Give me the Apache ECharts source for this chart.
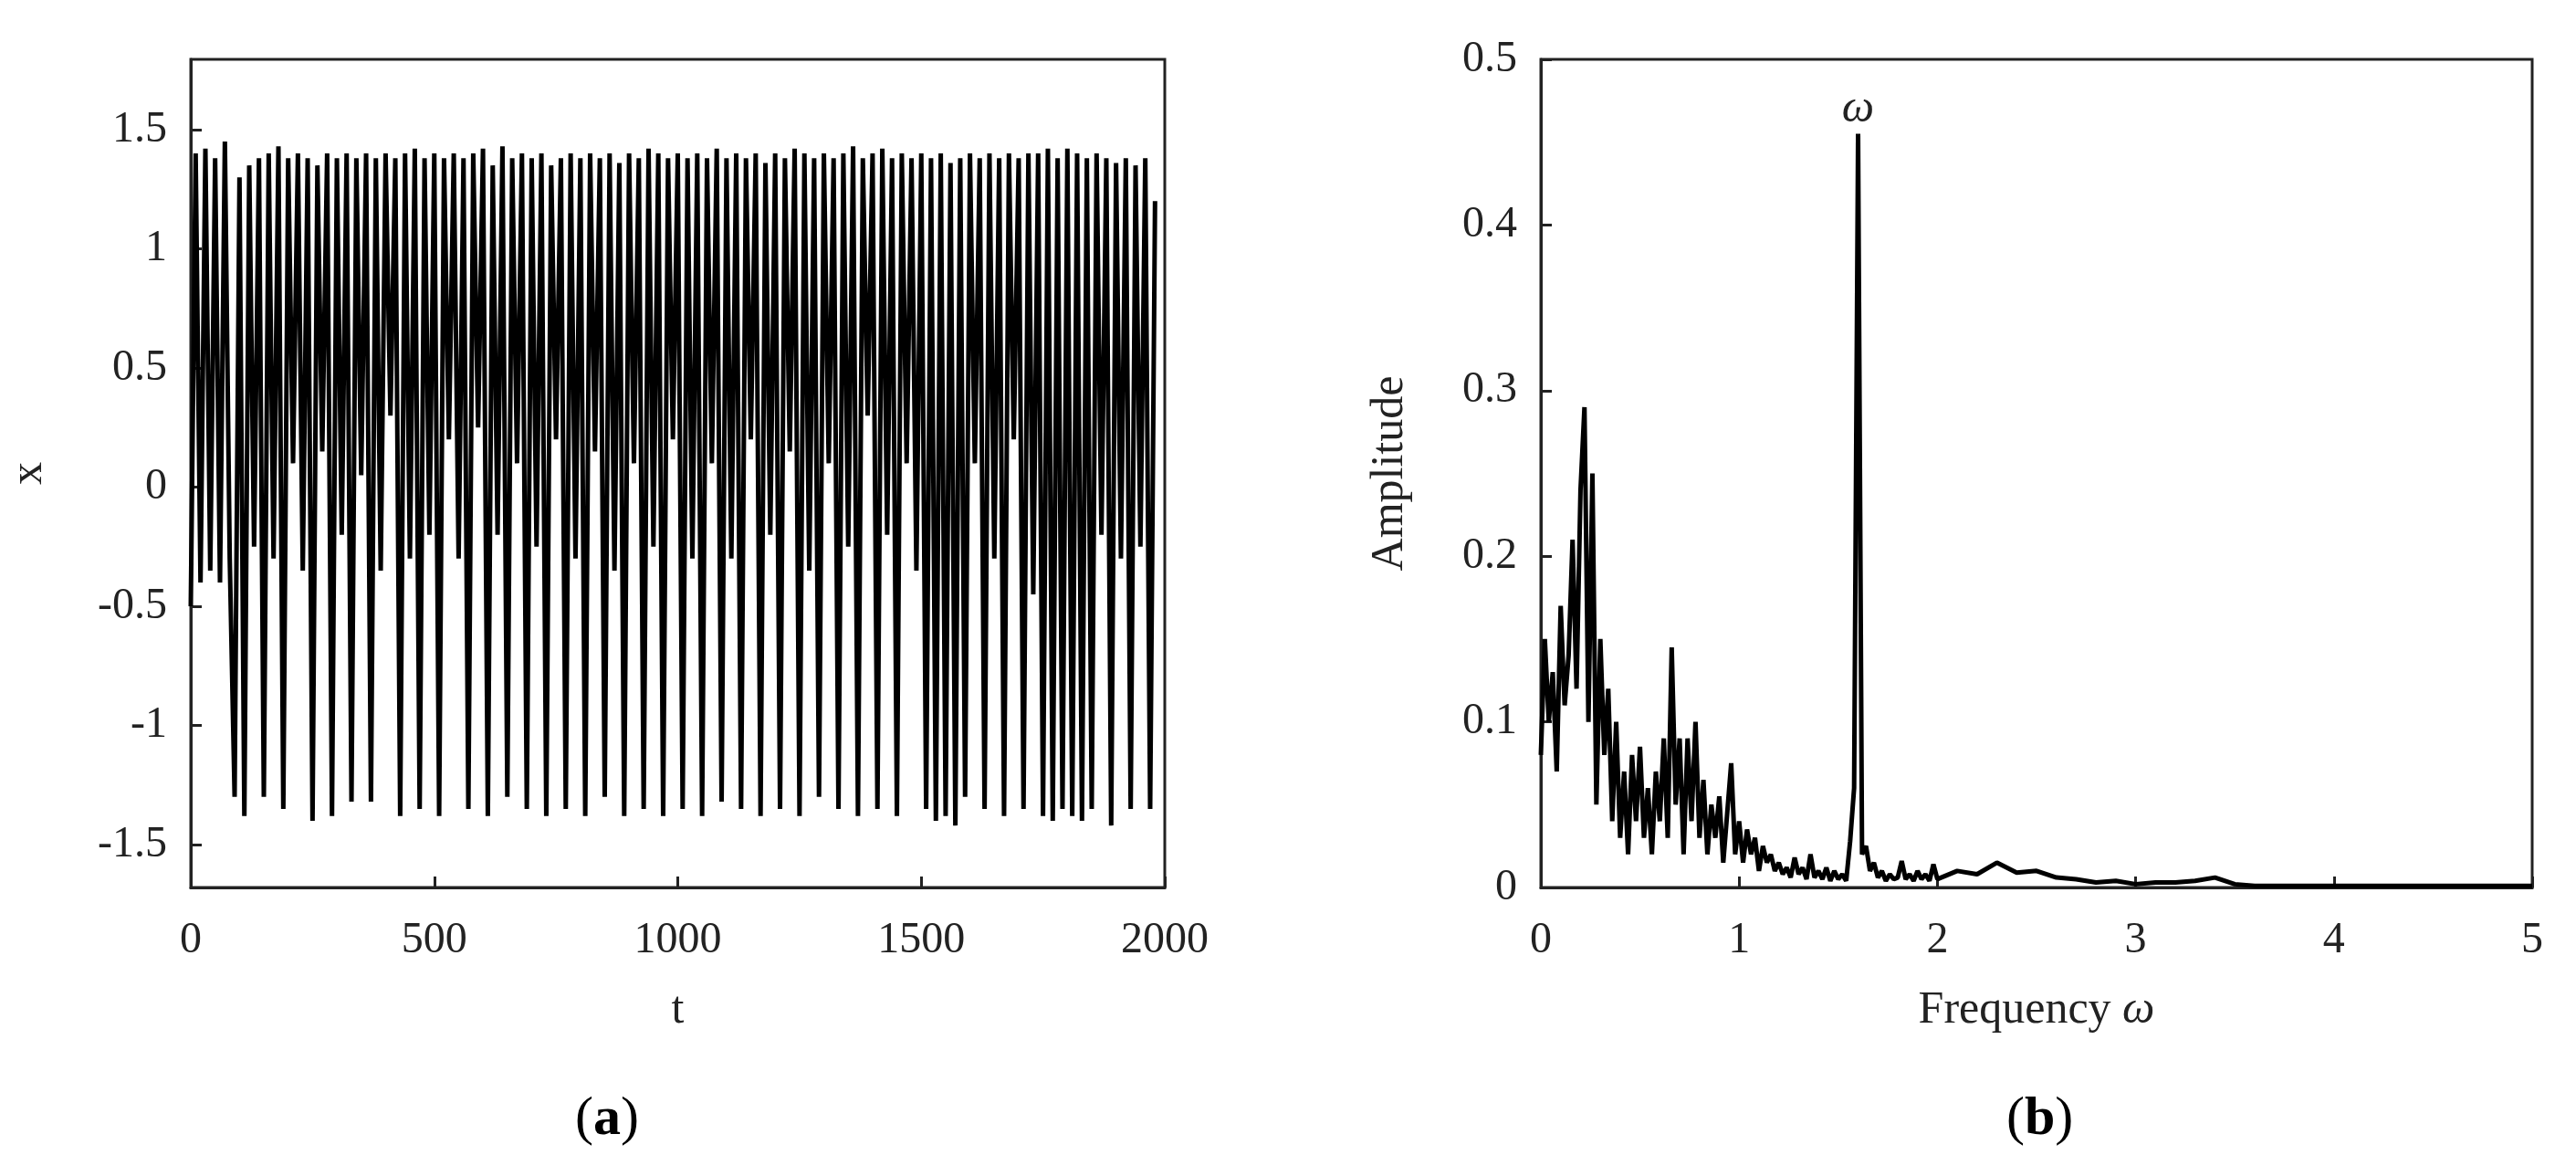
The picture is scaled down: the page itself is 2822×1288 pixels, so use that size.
<!DOCTYPE html>
<html><head><meta charset="utf-8">
<script src="https://cdn.jsdelivr.net/npm/echarts@6/dist/echarts.min.js"></script>
<style>html,body{margin:0;background:#fff}#c{width:2822px;height:1288px}</style>
</head><body><div id="c"></div>
<script>
const tValues = [0,10,20,30,40,50,60,70,80,90,100,110,120,130,140,150,160,170,180,190,200,210,220,230,240,250,260,270,280,290,300,310,320,330,340,350,360,370,380,390,400,410,420,430,440,450,460,470,480,490,500,510,520,530,540,550,560,570,580,590,600,610,620,630,640,650,660,670,680,690,700,710,720,730,740,750,760,770,780,790,800,810,820,830,840,850,860,870,880,890,900,910,920,930,940,950,960,970,980,990,1000,1010,1020,1030,1040,1050,1060,1070,1080,1090,1100,1110,1120,1130,1140,1150,1160,1170,1180,1190,1200,1210,1220,1230,1240,1250,1260,1270,1280,1290,1300,1310,1320,1330,1340,1350,1360,1370,1380,1390,1400,1410,1420,1430,1440,1450,1460,1470,1480,1490,1500,1510,1520,1530,1540,1550,1560,1570,1580,1590,1600,1610,1620,1630,1640,1650,1660,1670,1680,1690,1700,1710,1720,1730,1740,1750,1760,1770,1780,1790,1800,1810,1820,1830,1840,1850,1860,1870,1880,1890,1900,1910,1920,1930,1940,1950,1960,1970,1980];
const xValues = [-0.5,1.4,-0.4,1.42,-0.35,1.38,-0.4,1.45,-0.3,-1.3,1.3,-1.38,1.35,-0.25,1.38,-1.3,1.4,-0.3,1.43,-1.35,1.38,0.1,1.4,-0.35,1.38,-1.4,1.35,0.15,1.4,-1.38,1.38,-0.2,1.4,-1.32,1.38,0.05,1.4,-1.32,1.38,-0.35,1.4,0.3,1.38,-1.38,1.4,-0.3,1.42,-1.35,1.38,-0.2,1.4,-1.38,1.38,0.2,1.4,-0.3,1.38,-1.35,1.4,0.25,1.42,-1.38,1.35,-0.2,1.43,-1.3,1.38,0.1,1.4,-1.35,1.38,-0.25,1.4,-1.38,1.35,0.2,1.38,-1.35,1.4,-0.3,1.38,-1.38,1.4,0.15,1.38,-1.3,1.4,-0.35,1.36,-1.38,1.4,0.1,1.38,-1.35,1.42,-0.25,1.4,-1.38,1.38,0.2,1.4,-1.35,1.38,-0.3,1.4,-1.38,1.38,0.1,1.42,-1.32,1.38,-0.3,1.4,-1.35,1.38,0.2,1.4,-1.38,1.36,-0.2,1.4,-1.35,1.38,0.15,1.42,-1.38,1.4,-0.35,1.38,-1.3,1.4,0.1,1.38,-1.35,1.4,-0.25,1.43,-1.38,1.38,0.3,1.4,-1.35,1.42,-0.2,1.38,-1.38,1.4,0.1,1.38,-0.35,1.4,-1.35,1.38,-1.4,1.4,-1.38,1.36,-1.42,1.38,-1.3,1.4,0.1,1.38,-1.35,1.4,-0.3,1.38,-1.38,1.4,0.2,1.38,-1.35,1.4,-0.45,1.4,-1.38,1.42,-1.4,1.38,-1.35,1.42,-1.38,1.4,-1.4,1.38,-1.35,1.4,-0.2,1.38,-1.42,1.36,-0.3,1.38,-1.35,1.35,-0.25,1.38,-1.35,1.2,0.2];
const freqValues = [0,0.02,0.04,0.06,0.08,0.1,0.12,0.14,0.16,0.18,0.2,0.22,0.24,0.26,0.28,0.3,0.32,0.34,0.36,0.38,0.4,0.42,0.44,0.46,0.48,0.5,0.52,0.54,0.56,0.58,0.6,0.62,0.64,0.66,0.68,0.7,0.72,0.74,0.76,0.78,0.8,0.82,0.84,0.86,0.88,0.9,0.92,0.94,0.96,0.98,1.0,1.02,1.04,1.06,1.08,1.1,1.12,1.14,1.16,1.18,1.2,1.22,1.24,1.26,1.28,1.3,1.32,1.34,1.36,1.38,1.4,1.42,1.44,1.46,1.48,1.5,1.52,1.54,1.56,1.58,1.6,1.62,1.64,1.66,1.68,1.7,1.72,1.74,1.76,1.78,1.8,1.82,1.84,1.86,1.88,1.9,1.92,1.94,1.96,1.98,2.0,2.1,2.2,2.3,2.4,2.5,2.6,2.7,2.8,2.9,3.0,3.1,3.2,3.3,3.4,3.5,3.6,3.7,3.8,3.9,4.0,4.2,4.4,4.6,4.8,5.0];
const ampValues = [0.08,0.15,0.1,0.13,0.07,0.17,0.11,0.14,0.21,0.12,0.24,0.29,0.1,0.25,0.05,0.15,0.08,0.12,0.04,0.1,0.03,0.07,0.02,0.08,0.04,0.085,0.03,0.06,0.02,0.07,0.04,0.09,0.03,0.145,0.05,0.09,0.02,0.09,0.04,0.1,0.03,0.065,0.02,0.05,0.03,0.055,0.015,0.045,0.075,0.02,0.04,0.015,0.035,0.02,0.03,0.01,0.025,0.015,0.02,0.01,0.015,0.008,0.012,0.006,0.018,0.008,0.012,0.005,0.02,0.006,0.01,0.005,0.012,0.004,0.01,0.005,0.008,0.004,0.028,0.06,0.455,0.02,0.025,0.01,0.015,0.006,0.01,0.004,0.008,0.005,0.006,0.016,0.005,0.008,0.004,0.01,0.005,0.008,0.004,0.014,0.005,0.01,0.008,0.015,0.009,0.01,0.006,0.005,0.003,0.004,0.002,0.003,0.003,0.004,0.006,0.002,0.001,0.001,0.001,0.001,0.001,0.001,0.001,0.001,0.001,0.001];
const xTicks = [-1.5,-1,-0.5,0,0.5,1,1.5];

const F = 'Liberation Serif', C = '#222';
const lbl = {fontFamily:F,fontSize:48,color:C};
const axLine = {show:true,onZero:false,lineStyle:{color:C,width:3}};
const nts = {fontFamily:F,fontSize:50,color:C,rich:{i:{fontFamily:F,fontSize:50,fontStyle:'italic',color:C}}};
function xa(i,min,max,interval,name){return {gridIndex:i,type:'value',min,max,interval,name,nameLocation:'middle',nameGap:110,
  nameTextStyle:nts,axisLine:axLine,axisTick:{inside:true,length:12,lineStyle:{color:C,width:3}},
  axisLabel:Object.assign({margin:34,formatter:v=>String(v)},lbl),splitLine:{show:false}};}
const ch = echarts.init(document.getElementById('c'));
ch.setOption({
  animation:false,
  grid:[{left:209,right:1546,top:65,bottom:316,show:true,borderColor:C,borderWidth:3,outerBoundsMode:'none',containLabel:false},
        {left:1688,right:48,top:65,bottom:316,show:true,borderColor:C,borderWidth:3,outerBoundsMode:'none',containLabel:false}],
  xAxis:[xa(0,0,2000,500,'t'),xa(1,0,5,1,'Frequency {i|ω}')],
  yAxis:[{gridIndex:0,type:'value',min:-1.68,max:1.795,name:'x',nameLocation:'middle',nameGap:152,nameRotate:90,
      nameTextStyle:nts,axisLine:axLine,
      axisTick:{inside:true,length:12,lineStyle:{color:C,width:3},customValues:xTicks},
      axisLabel:Object.assign({margin:26,customValues:xTicks,formatter:v=>String(v)},lbl),splitLine:{show:false}},
    {gridIndex:1,type:'value',min:0,max:0.5,interval:0.1,name:'Amplitude',nameLocation:'middle',nameGap:140,nameRotate:90,
      nameTextStyle:nts,axisLine:axLine,
      axisTick:{inside:true,length:12,lineStyle:{color:C,width:3}},
      axisLabel:Object.assign({margin:26,formatter:v=>String(v)},lbl),splitLine:{show:false}}],
  series:[
    {type:'line',xAxisIndex:0,yAxisIndex:0,symbol:'none',data:tValues.map((t,i)=>[t,xValues[i]]),lineStyle:{color:'#000',width:5}},
    {type:'line',xAxisIndex:1,yAxisIndex:1,symbol:'none',data:freqValues.map((f,i)=>[f,ampValues[i]]),lineStyle:{color:'#000',width:5},
     markPoint:{symbol:'circle',symbolSize:0,data:[{coord:[1.6,0.455]}],label:{show:true,position:'top',distance:2,formatter:'ω',fontFamily:F,fontStyle:'italic',fontSize:50,color:C}}}
  ],
  graphic:[
    {type:'text',left:630,top:1196,style:{rich:{p:{fontFamily:F,fontSize:60,color:C},b:{fontFamily:F,fontSize:60,fontWeight:'bold',color:C}},text:'{p|(}{b|a}{p|)}'}},
    {type:'text',left:2198,top:1196,style:{rich:{p:{fontFamily:F,fontSize:60,color:C},b:{fontFamily:F,fontSize:60,fontWeight:'bold',color:C}},text:'{p|(}{b|b}{p|)}'}}
  ]
});
</script></body></html>
